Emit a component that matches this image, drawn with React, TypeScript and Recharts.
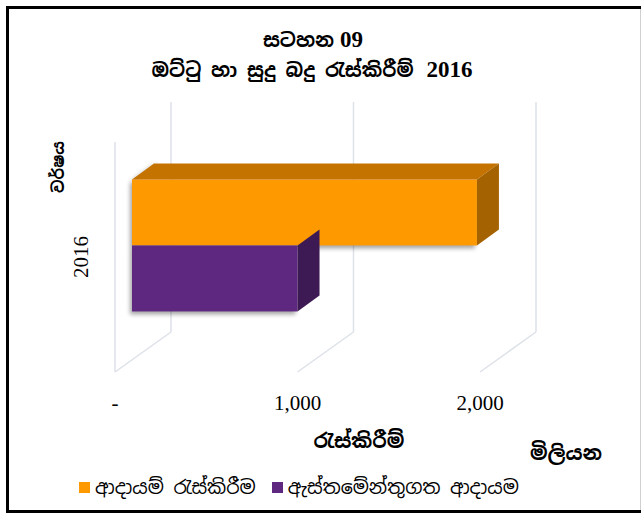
import { BarChart, Bar, XAxis, YAxis, CartesianGrid, Legend } from "recharts";

// values (Rs. million)
const years = ["2016"];
const revenueCollected = [1890];
const estimatedRevenue = [907];
const xTicks = [0, 1000, 2000];
const xTickLabels = ["-", "1,000", "2,000"];

const seriesNames = ["ආදායම් රැස්කිරීම", "ඇස්තමේන්තුගත ආදායම"];
const seriesColors = ["#ff9900", "#5e2880"];
const topColors = ["#c47200", "#4a1f66"];
const sideColors = ["#a56200", "#3e1a55"];

const data = years.map((year, i) => ({
  year,
  collected: revenueCollected[i],
  estimated: estimatedRevenue[i],
}));

const W = 641;
const H = 513;

// 3D projection of the plot box
const DEPTH_X = 56;
const DEPTH_Y = 40;
const BAR_DX = 17;
const BAR_DY = 12;
const BAR_DEPTH_X = 22;
const BAR_DEPTH_Y = 16;

const FONT_SI = "'Iskoola Pota', 'Noto Sans Sinhala', 'Liberation Serif', serif";
const FONT_NUM = "'Liberation Serif', 'Times New Roman', serif";
const GRID = "#dde1e8";

function makeBarShape(idx: number, withTop: boolean) {
  return (props: any) => {
    const { x, y, width, height } = props;
    if (width == null || height == null) return <g />;
    const fx = x + BAR_DX;
    const fy = y - BAR_DY;
    const rx = fx + width;
    const top = `${fx},${fy} ${fx + BAR_DEPTH_X},${fy - BAR_DEPTH_Y} ${rx + BAR_DEPTH_X},${fy - BAR_DEPTH_Y} ${rx},${fy}`;
    const side = `${rx},${fy} ${rx + BAR_DEPTH_X},${fy - BAR_DEPTH_Y} ${rx + BAR_DEPTH_X},${fy - BAR_DEPTH_Y + height} ${rx},${fy + height}`;
    const fid = `barShadow${idx}`;
    return (
      <g>
        <defs>
          <filter id={fid} x="-20%" y="-40%" width="140%" height="180%">
            <feGaussianBlur stdDeviation="2" />
          </filter>
        </defs>
        <rect
          x={fx - 2}
          y={fy + 3}
          width={width}
          height={height}
          fill="#000"
          opacity={0.35}
          filter={`url(#${fid})`}
        />
        {withTop && (
          <polygon
            points={`${fx - 2},${fy + 2} ${fx + BAR_DEPTH_X - 2},${fy - BAR_DEPTH_Y + 2} ${fx + BAR_DEPTH_X + 4},${fy - BAR_DEPTH_Y} ${fx + 4},${fy}`}
            fill="#000"
            opacity={0.35}
            filter={`url(#${fid})`}
          />
        )}
        <rect x={fx} y={fy} width={width} height={height} fill={seriesColors[idx]} />
        {withTop && <polygon points={top} fill={topColors[idx]} />}
        <polygon points={side} fill={sideColors[idx]} />
      </g>
    );
  };
}

// back wall line + floor diagonal for each x tick, front edge for the first one
function gridLine(props: any) {
  const { x1, y1, y2, index } = props;
  if (x1 == null) return <g />;
  const top = Math.min(y1, y2);
  const bottom = Math.max(y1, y2);
  const bx = x1 + DEPTH_X;
  return (
    <g key={`grid-${index}-${x1}`} stroke={GRID} strokeWidth={1.5} fill="none">
      <line x1={bx} y1={top - DEPTH_Y} x2={bx} y2={bottom - DEPTH_Y} />
      <line x1={bx} y1={bottom - DEPTH_Y} x2={x1} y2={bottom} />
      {index === 0 && <line x1={x1} y1={top} x2={x1} y2={bottom} />}
    </g>
  );
}

function YearTick(props: any) {
  const { y, payload } = props;
  return (
    <text
      x={0}
      y={0}
      transform={`translate(88, ${y}) rotate(-90)`}
      textAnchor="middle"
      fontFamily={FONT_NUM}
      fontSize={21}
      fill="#000"
    >
      {payload.value}
    </text>
  );
}

function LegendContent() {
  return (
    <div style={{ display: "flex", alignItems: "center", fontFamily: FONT_SI, fontSize: 19, color: "#000", whiteSpace: "nowrap" }}>
      {seriesNames.map((name, i) => (
        <span key={name} style={{ display: "flex", alignItems: "center", marginRight: 16 }}>
          <span style={{ width: 11, height: 11, background: seriesColors[i], marginRight: 5, display: "inline-block" }} />
          {name}
        </span>
      ))}
    </div>
  );
}

export default function App() {
  return (
    <div style={{ position: "absolute", left: 0, top: 0, width: W, height: H, background: "#fff" }}>
      <div style={{ position: "absolute", left: 0, top: 0 }}>
        <BarChart
          width={W}
          height={H}
          data={data}
          layout="vertical"
          margin={{ top: 142, right: 161, bottom: 111, left: 0 }}
          barCategoryGap="21.5%"
          barGap={0}
        >
          <CartesianGrid horizontal={false} vertical={gridLine} />
          <XAxis
            type="number"
            domain={[0, 2000]}
            ticks={xTicks}
            interval={0}
            axisLine={false}
            tickLine={false}
            tickSize={0}
            tickMargin={23}
            height={30}
            tickFormatter={(v: number) => xTickLabels[xTicks.indexOf(v)] ?? String(v)}
            tick={{ fontFamily: FONT_NUM, fontSize: 21, fill: "#000" }}
          />
          <YAxis
            type="category"
            dataKey="year"
            width={115}
            axisLine={false}
            tickLine={false}
            tick={<YearTick />}
          />
          <Bar
            dataKey="collected"
            name={seriesNames[0]}
            fill={seriesColors[0]}
            shape={makeBarShape(0, true)}
            isAnimationActive={false}
          />
          <Bar
            dataKey="estimated"
            name={seriesNames[1]}
            fill={seriesColors[1]}
            shape={makeBarShape(1, false)}
            isAnimationActive={false}
          />
          <Legend
            layout="vertical"
            align="center"
            verticalAlign="middle"
            content={<LegendContent />}
            wrapperStyle={{ left: 79, top: 475, width: 520, height: 24 }}
          />
        </BarChart>
      </div>
      <svg width={W} height={H} style={{ position: "absolute", left: 0, top: 0, pointerEvents: "none" }}>
        {/* outer frame */}
        <line x1={7.5} y1={6} x2={7.5} y2={H} stroke="#000" strokeWidth={3} />
        <line x1={6} y1={7.5} x2={W} y2={7.5} stroke="#000" strokeWidth={3} />
        <line x1={6} y1={511.5} x2={W} y2={511.5} stroke="#000" strokeWidth={3} />
        <line x1={640.5} y1={9} x2={640.5} y2={510} stroke="#d0d0d0" strokeWidth={1} />
        <g fontWeight="bold" fill="#000" textAnchor="middle">
          <text x={313} y={47}>
            <tspan fontFamily={FONT_SI} fontSize={19.5}>සටහන</tspan>
            <tspan fontFamily={FONT_NUM} fontSize={23} dx={6}>09</tspan>
          </text>
          <text x={312} y={77}>
            <tspan fontFamily={FONT_SI} fontSize={19.5}>ඔට්ටු හා සුදු බදු රැස්කිරීම්</tspan>
            <tspan fontFamily={FONT_NUM} fontSize={23} dx={13}>2016</tspan>
          </text>
          <text x={0} y={0} transform="translate(64, 167) rotate(-90)" fontSize={16} fontFamily={FONT_SI}>
            වර්ෂය
          </text>
          <text x={359} y={448} fontSize={20} fontFamily={FONT_SI}>
            රැස්කිරීම්
          </text>
          <text x={566} y={460} fontSize={20} fontFamily={FONT_SI}>
            මිලියන
          </text>
        </g>
      </svg>
    </div>
  );
}
